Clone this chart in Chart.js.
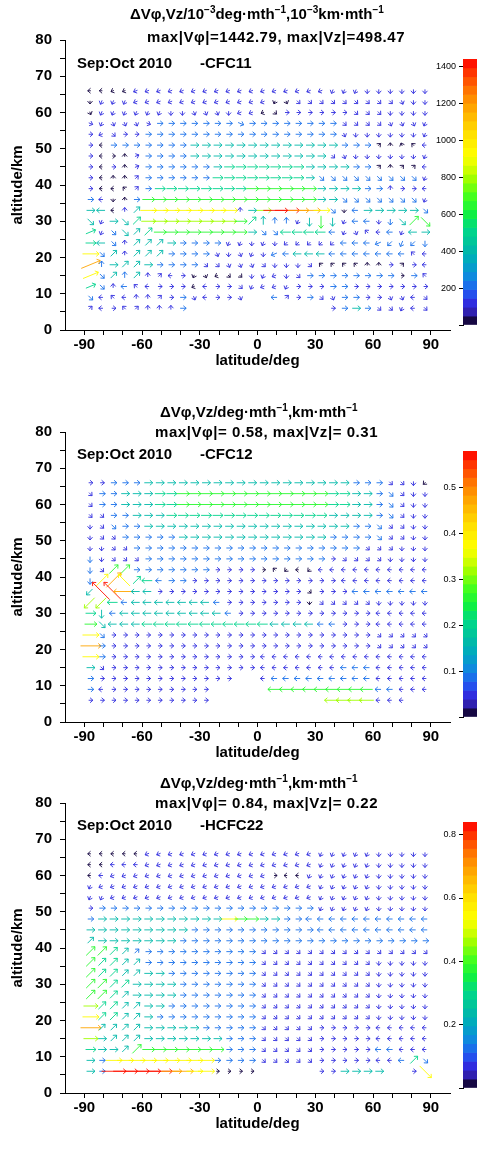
<!DOCTYPE html>
<html>
<head>
<meta charset="utf-8">
<script src="https://cdn.jsdelivr.net/npm/chart.js@4.4.1/dist/chart.umd.min.js"></script>
<style>
  body { margin: 0; background: #fff; width: 477px; height: 1155px; overflow: hidden; position: relative;
         font-family: "Liberation Sans", Arial, sans-serif; color: #000; }
  .panel { position: absolute; left: 0; width: 477px; height: 390px; }
  .panel canvas { position: absolute; }
  .t1, .t2, .t3 { position: absolute; font-weight: bold; font-size: 15px; line-height: 18px; white-space: nowrap; }
  .t2 { letter-spacing: 0.55px; }
  .t1 sup { font-size: 10px; vertical-align: 6px; line-height: 0; }
  .t3 .sp { position: absolute; left: 123px; }
</style>
</head>
<body>
<div class="panel" style="top:0px">
  <canvas id="m1" width="477" height="380" style="left:0;top:0"></canvas>
  <canvas id="cb1" width="90" height="340" style="left:400px;top:0"></canvas>
  <div class="t1" style="left:130px;top:5px">ΔVφ,Vz/10<sup>−3</sup>deg·mth<sup>−1</sup>,10<sup>−3</sup>km·mth<sup>−1</sup></div>
  <div class="t2" style="left:147px;top:28px">max|Vφ|=1442.79, max|Vz|=498.47</div>
  <div class="t3" style="left:77px;top:54px">Sep:Oct 2010<span class="sp">-CFC11</span></div>
</div>
<div class="panel" style="top:392px">
  <canvas id="m2" width="477" height="380" style="left:0;top:0"></canvas>
  <canvas id="cb2" width="90" height="340" style="left:400px;top:0"></canvas>
  <div class="t1" style="left:160px;top:11px">ΔVφ,Vz/deg·mth<sup>−1</sup>,km·mth<sup>−1</sup></div>
  <div class="t2" style="left:155px;top:31px">max|Vφ|= 0.58, max|Vz|= 0.31</div>
  <div class="t3" style="left:77px;top:53px">Sep:Oct 2010<span class="sp">-CFC12</span></div>
</div>
<div class="panel" style="top:763px">
  <canvas id="m3" width="477" height="380" style="left:0;top:0"></canvas>
  <canvas id="cb3" width="90" height="340" style="left:400px;top:0"></canvas>
  <div class="t1" style="left:160px;top:11px">ΔVφ,Vz/deg·mth<sup>−1</sup>,km·mth<sup>−1</sup></div>
  <div class="t2" style="left:155px;top:31px">max|Vφ|= 0.84, max|Vz|= 0.22</div>
  <div class="t3" style="left:77px;top:53px">Sep:Oct 2010<span class="sp">-HCFC22</span></div>
</div>
<script>
// grid of the vector field
const lats = [-87, -81, -75, -69, -63, -57, -51, -45, -39, -33, -27, -21, -15, -9, -3,
              3, 9, 15, 21, 27, 33, 39, 45, 51, 57, 63, 69, 75, 81, 87];
const alts = [66, 63, 60, 57, 54, 51, 48, 45, 42, 39, 36, 33, 30, 27, 24, 21, 18, 15, 12, 9, 6];
const xTicks = [-90, -80, -70, -60, -50, -40, -30, -20, -10, 0, 10, 20, 30, 40, 50, 60, 70, 80, 90];
const yTicks = [0, 5, 10, 15, 20, 25, 30, 35, 40, 45, 50, 55, 60, 65, 70, 75, 80];

// magnitude classes (fraction of max) used by the row codes below
const magLevels = [0.03, 0.08, 0.16, 0.27, 0.36, 0.45, 0.55, 0.64, 0.82, 1.0];

// direction: hex digit k = k*22.5 deg from east (0 E, 4 N, 8 W, c S), '.' = no arrow
// magnitude: index into magLevels
const cfc11Dir = [
  "88999 99999 99999 99999 9bbbc ccccc",
  "cbbb9 99999 99999 9bdee eeeee eedcc",
  "dbbbb bbccd ddc99 9e000 000ee ecccc",
  "fbddd f0000 000f0 00000 00eee edddb",
  "09e00 00000 00000 00000 00dcc ccccb",
  "08000 00000 00000 00000 00000 24568",
  "08041 00000 00000 00000 0edcc ccccb",
  "08041 00000 00000 00000 00000 24228",
  "08442 00000 00000 00000 eeeee eeeeb",
  "08862 00000 00000 00000 00000 04008",
  "08c40 00000 00000 00000 00eee eeeeb",
  "08842 00000 00040 00000 0ec80 0000e",
  "eb0e2 00000 00002 444bc ccb88 cce2e",
  "1bee2 20000 00000 ee888 88bd6 88b80",
  "08e42 22000 00bbc bcaaa aa888 9abac",
  "0e242 22000 0dcdb c9888 88888 88868",
  "14022 00000 eeddd eccce 66664 40208",
  "1e242 4280b d9eec b9ce0 00000 00006",
  "1e486 80009 800eb 99b00 00000 00000",
  "e8684 4200d 800d. .8200 ed000 0dd8e",
  "28062 4440. ..... ..... .0000 eeb8e"
];
const cfc11Mag = [
  "00001 11111 11111 11111 11111 11111",
  "01111 11111 11111 10011 11111 11111",
  "01111 11111 11111 00111 11111 11111",
  "11111 12222 22222 22222 22111 11111",
  "11111 22222 22222 22222 22111 11111",
  "10222 22223 33333 33333 33222 00001",
  "10001 22223 33333 33333 31111 11111",
  "10101 22222 23444 44443 33322 00001",
  "10001 22222 24444 44443 22222 22221",
  "10001 24444 44445 55555 33332 21111",
  "21002 55555 55555 55555 33222 22221",
  "33013 77777 77713 69988 72023 33332",
  "31334 66666 66654 32213 53122 12355",
  "41233 45555 55553 22444 42111 12133",
  "43213 33322 22111 11111 11222 22222",
  "72313 33222 21111 12233 32222 22211",
  "82333 32222 11111 11111 00000 01011",
  "72323 11110 00001 11112 22222 22021",
  "42121 11110 11111 11111 12211 11111",
  "21111 11121 11110 02112 11221 11111",
  "11111 11120 00000 00000 01232 11111"
];

const cfc12Dir = [
  "00000 00000 00000 00000 00000 0eeca",
  "e0000 00000 00000 00000 00000 0eecc",
  "e0000 00000 00000 00000 00000 0eecc",
  "ee000 00000 00000 00000 00000 0eecc",
  "cee00 00000 00000 00000 00000 eeecc",
  "cee00 00000 00000 00000 00000 eeecc",
  "ccee0 00000 00000 00000 0000e eeccc",
  "cceee 00000 00000 00000 00eee ecccc",
  "ce220 00000 00000 06a8a 88888 88888",
  "c2262 88000 00000 00000 00888 88888",
  "a6688 80000 00000 0000e 00088 88888",
  "aa888 88888 88000 0000c eeeee ccccc",
  "0c888 88888 88800 00000 00000 88888",
  "0e888 88888 88888 88888 88000 88888",
  "0e000 00000 00000 00000 00000 eeeee",
  "00000 00000 00000 00000 00000 eeeee",
  "00000 00000 00000 88888 88888 88888",
  "0e000 00000 00000 88888 88888 88888",
  "00000 00000 000.. 88888 88888 88888",
  "08000 00000 0.... .8888 88888 88888",
  "00000 00000 0.... ..... .8888 888.."
];
const cfc12Mag = [
  "11222 33333 33333 33333 33322 21110",
  "12233 34455 55555 55555 54433 22111",
  "12233 34455 55555 55555 54433 22111",
  "11223 33444 44444 44444 43333 22111",
  "11222 33333 33333 33333 33322 21111",
  "11122 22233 33333 33333 32222 21111",
  "11112 22222 22222 22222 22221 11111",
  "21111 22222 22222 22222 21111 11111",
  "21552 22222 21111 00000 11111 11111",
  "27874 42221 11111 11111 11111 11111",
  "39983 31111 11111 11110 11122 22222",
  "66423 33333 32111 11110 11111 11111",
  "43233 33333 33211 11111 11111 11111",
  "53333 44444 44444 43333 22111 11111",
  "72111 11111 11111 11111 11111 11111",
  "82111 11111 11111 11111 11111 11111",
  "72111 11111 11111 11111 11111 11111",
  "31111 11111 11111 11111 11222 11111",
  "21111 11111 11100 12222 22222 11111",
  "21111 11111 10000 05555 55555 22111",
  "11111 11111 10000 00000 06666 11100"
];

const hcfc22Dir = [
  "88888 99999 99999 99999 bbbbb ccccc",
  "88888 99999 99999 99999 bbbbb ccccc",
  "88999 99999 99999 9088b bbbbb ccccc",
  "b9999 99999 99999 99999 bbbbb ccccc",
  "bb999 99999 99999 99999 bbbbb ccccc",
  "00000 00000 00000 00000 bbbbb ccccc",
  "00000 00000 00000 00008 88888 88888",
  "00000 00000 00000 00000 88888 88888",
  "20000 00000 00000 00000 00000 00000",
  "22222 00000 00000 eeeee eeeee eeeee",
  "22222 00000 00000 eeeee eeeee ccccc",
  "22222 00000 00000 eeeee eeeee ccccc",
  "22220 00000 00000 eeeee eeeee ccccc",
  "22220 00000 00000 eeeee eeeee ccccc",
  "02222 00000 00000 eeeee eeeee ccccc",
  "02222 00000 00000 eeeee eeeee ccccc",
  "02222 00000 00000 eeeee 00000 88888",
  "00222 00000 00000 eeeee 00000 88888",
  "00022 00000 00000 eeeee 00000 88888",
  "00000 00000 00000 eeeee 00000 8882e",
  "00000 00000 00000 ..... 00000 0..0e"
];
const hcfc22Mag = [
  "00000 11111 11111 11111 11111 11111",
  "00111 11111 11111 11111 11111 11111",
  "01111 11111 11111 10001 11111 11111",
  "11111 11111 11111 11111 11111 11111",
  "11111 11111 11111 11111 11111 11111",
  "12222 22222 22222 22222 11111 11111",
  "23333 33333 33755 33222 22222 22222",
  "33333 33332 22222 22222 22222 22222",
  "33333 33322 22222 22222 22222 22222",
  "55432 22222 22222 11111 11111 11111",
  "54433 22222 22222 11111 11111 11111",
  "54433 33222 22222 11111 11111 11111",
  "55443 33322 22222 11111 11111 11111",
  "55433 33322 22222 11111 11111 11111",
  "64433 33222 22222 11111 11111 11111",
  "74433 32222 22222 11111 11111 11111",
  "83333 33333 22222 11111 11111 11111",
  "63333 33333 33222 11111 11111 11111",
  "43335 55555 55222 11111 11111 22111",
  "32777 77777 72222 11111 11111 11242",
  "32999 99887 70000 00000 11333 31117"
];

const maxVals = [1442.79, 0.58, 0.84];
const cbSteps = [200, 0.1, 0.2];

// colour table (position along bar, colour)
const cmapStops = [
  [0.00, '#000000'], [0.02, '#1a0a50'], [0.05, '#3020b0'], [0.09, '#3030e8'],
  [0.13, '#2060f0'], [0.18, '#1088e0'], [0.24, '#00a8c0'], [0.30, '#00c0a0'],
  [0.36, '#00d888'], [0.42, '#10f040'], [0.48, '#40ff20'], [0.55, '#a0ff00'],
  [0.60, '#e0ff00'], [0.64, '#ffff00'], [0.72, '#ffe000'], [0.80, '#ffb000'],
  [0.87, '#ff8000'], [0.94, '#ff4000'], [1.00, '#ff0000']
];
const nBands = 30;
const FONT = '"Liberation Sans", Arial, sans-serif';

function hexRgb(h) {
  return [parseInt(h.substr(1, 2), 16), parseInt(h.substr(3, 2), 16), parseInt(h.substr(5, 2), 16)];
}
function cmap(f) {
  f = Math.max(0, Math.min(1, f));
  for (let i = 1; i < cmapStops.length; i++) {
    if (f <= cmapStops[i][0]) {
      const p0 = cmapStops[i - 1][0], p1 = cmapStops[i][0];
      const a = hexRgb(cmapStops[i - 1][1]), b = hexRgb(cmapStops[i][1]);
      const t = (f - p0) / (p1 - p0);
      return 'rgb(' + a.map((v, k) => Math.round(v + (b[k] - v) * t)).join(',') + ')';
    }
  }
  return cmapStops[cmapStops.length - 1][1];
}
function bandColor(f) {
  const i = Math.min(nBands - 1, Math.floor(f * nBands));
  return cmap((i + 0.5) / nBands);
}

function buildPoints(dirRows, magRows, maxVal) {
  const pts = [];
  dirRows.forEach((row, r) => {
    const d = row.replace(/ /g, ''), m = magRows[r].replace(/ /g, '');
    for (let c = 0; c < lats.length; c++) {
      if (!d[c] || d[c] === '.') continue;
      const ang = parseInt(d[c], 16) * Math.PI / 8;
      const val = magLevels[+m[c]] * maxVal;
      pts.push({ x: lats[c], y: alts[r], u: val * Math.cos(ang), v: val * Math.sin(ang) });
    }
  });
  return pts;
}

// draws each point as an arrow centred on its grid position
const quiver = {
  id: 'quiver',
  afterDatasetsDraw(chart) {
    const { ctx, scales: { x, y } } = chart;
    const ds = chart.data.datasets[0];
    ctx.save();
    ctx.lineWidth = 0.9;
    ds.data.forEach(p => {
      const mag = Math.hypot(p.u, p.v);
      const f = mag / ds.maxVal;
      const len = 1 + f * 22;
      const a = Math.atan2(p.v, p.u);
      const cx = x.getPixelForValue(p.x), cy = y.getPixelForValue(p.y);
      const dx = Math.cos(a) * len / 2, dy = -Math.sin(a) * len / 2;
      const x0 = cx - dx, y0 = cy - dy, x1 = cx + dx + Math.cos(a) * 1.5, y1 = cy + dy - Math.sin(a) * 1.5;
      const hl = 3.8, ha = 0.72;
      const back = a + Math.PI;
      ctx.strokeStyle = bandColor(f);
      ctx.beginPath();
      ctx.moveTo(x0, y0);
      ctx.lineTo(x1, y1);
      ctx.moveTo(x1 + Math.cos(back + ha) * hl, y1 - Math.sin(back + ha) * hl);
      ctx.lineTo(x1, y1);
      ctx.lineTo(x1 + Math.cos(back - ha) * hl, y1 - Math.sin(back - ha) * hl);
      ctx.stroke();
    });
    ctx.restore();
  }
};

const tickFont = { family: FONT, weight: 'bold', size: 15 };

function mainChart(id, pts, maxVal) {
  return new Chart(document.getElementById(id), {
    type: 'scatter',
    data: { datasets: [{ data: pts, pointRadius: 0, pointHoverRadius: 0, maxVal: maxVal }] },
    options: {
      responsive: false, animation: false, events: [],
      layout: { padding: { top: 40, right: 27, left: 0, bottom: 0 } },
      plugins: { legend: { display: false }, tooltip: { enabled: false } },
      scales: {
        x: {
          type: 'linear', min: -100, max: 100,
          afterBuildTicks: s => { s.ticks = xTicks.map(v => ({ value: v })); },
          afterFit: s => { s.height = 50; },
          ticks: { autoSkip: false, maxRotation: 0, padding: 1, color: '#000', font: tickFont,
                   callback: v => (v % 30 === 0 ? String(v) : '') },
          grid: { drawOnChartArea: false, drawTicks: true, tickLength: 5, color: '#000' },
          border: { display: true, color: '#000', width: 1 },
          title: { display: true, text: 'latitude/deg', color: '#000', font: tickFont, padding: { top: 0, bottom: 10 } }
        },
        y: {
          type: 'linear', min: 0, max: 80,
          afterBuildTicks: s => { s.ticks = yTicks.map(v => ({ value: v })); },
          afterFit: s => { s.width = 65; },
          ticks: { autoSkip: false, padding: 8, color: '#000', font: tickFont,
                   callback: v => (v % 10 === 0 ? String(v) : '') },
          grid: { drawOnChartArea: false, drawTicks: true, tickLength: 5, color: '#000' },
          border: { display: true, color: '#000', width: 1 },
          title: { display: true, text: 'altitude/km', color: '#000', font: tickFont, padding: { top: 9, bottom: 0 } }
        }
      }
    },
    plugins: [quiver]
  });
}

function colorBar(id, maxVal, step) {
  const bars = [], cols = [];
  for (let i = 0; i < nBands; i++) {
    bars.push({ x: 'cb', y: [i / nBands * maxVal, (i + 1) / nBands * maxVal] });
    cols.push(cmap((i + 0.5) / nBands));
  }
  const dec = step < 1 ? 1 : 0;
  return new Chart(document.getElementById(id), {
    type: 'bar',
    data: { labels: ['cb'], datasets: [{ data: bars, backgroundColor: cols, borderWidth: 0,
                                         barPercentage: 1, categoryPercentage: 1, grouped: false }] },
    options: {
      responsive: false, animation: false, events: [],
      layout: { padding: { top: 59, bottom: 15, left: 0, right: 0 } },
      plugins: { legend: { display: false }, tooltip: { enabled: false } },
      scales: {
        x: { display: false },
        y: {
          min: 0, max: maxVal,
          afterFit: s => { s.width = 63; },
          ticks: { stepSize: step, includeBounds: false, padding: 3, color: '#000',
                   font: { family: FONT, size: 9 },
                   callback: v => (v <= 1e-9 ? '' : Number(v).toFixed(dec)) },
          grid: { drawOnChartArea: false, drawTicks: true, tickLength: 4, color: '#000' },
          border: { display: true, color: '#000', width: 1 }
        }
      }
    }
  });
}

mainChart('m1', buildPoints(cfc11Dir, cfc11Mag, maxVals[0]), maxVals[0]);
mainChart('m2', buildPoints(cfc12Dir, cfc12Mag, maxVals[1]), maxVals[1]);
mainChart('m3', buildPoints(hcfc22Dir, hcfc22Mag, maxVals[2]), maxVals[2]);
colorBar('cb1', maxVals[0], cbSteps[0]);
colorBar('cb2', maxVals[1], cbSteps[1]);
colorBar('cb3', maxVals[2], cbSteps[2]);
</script>
</body>
</html>
